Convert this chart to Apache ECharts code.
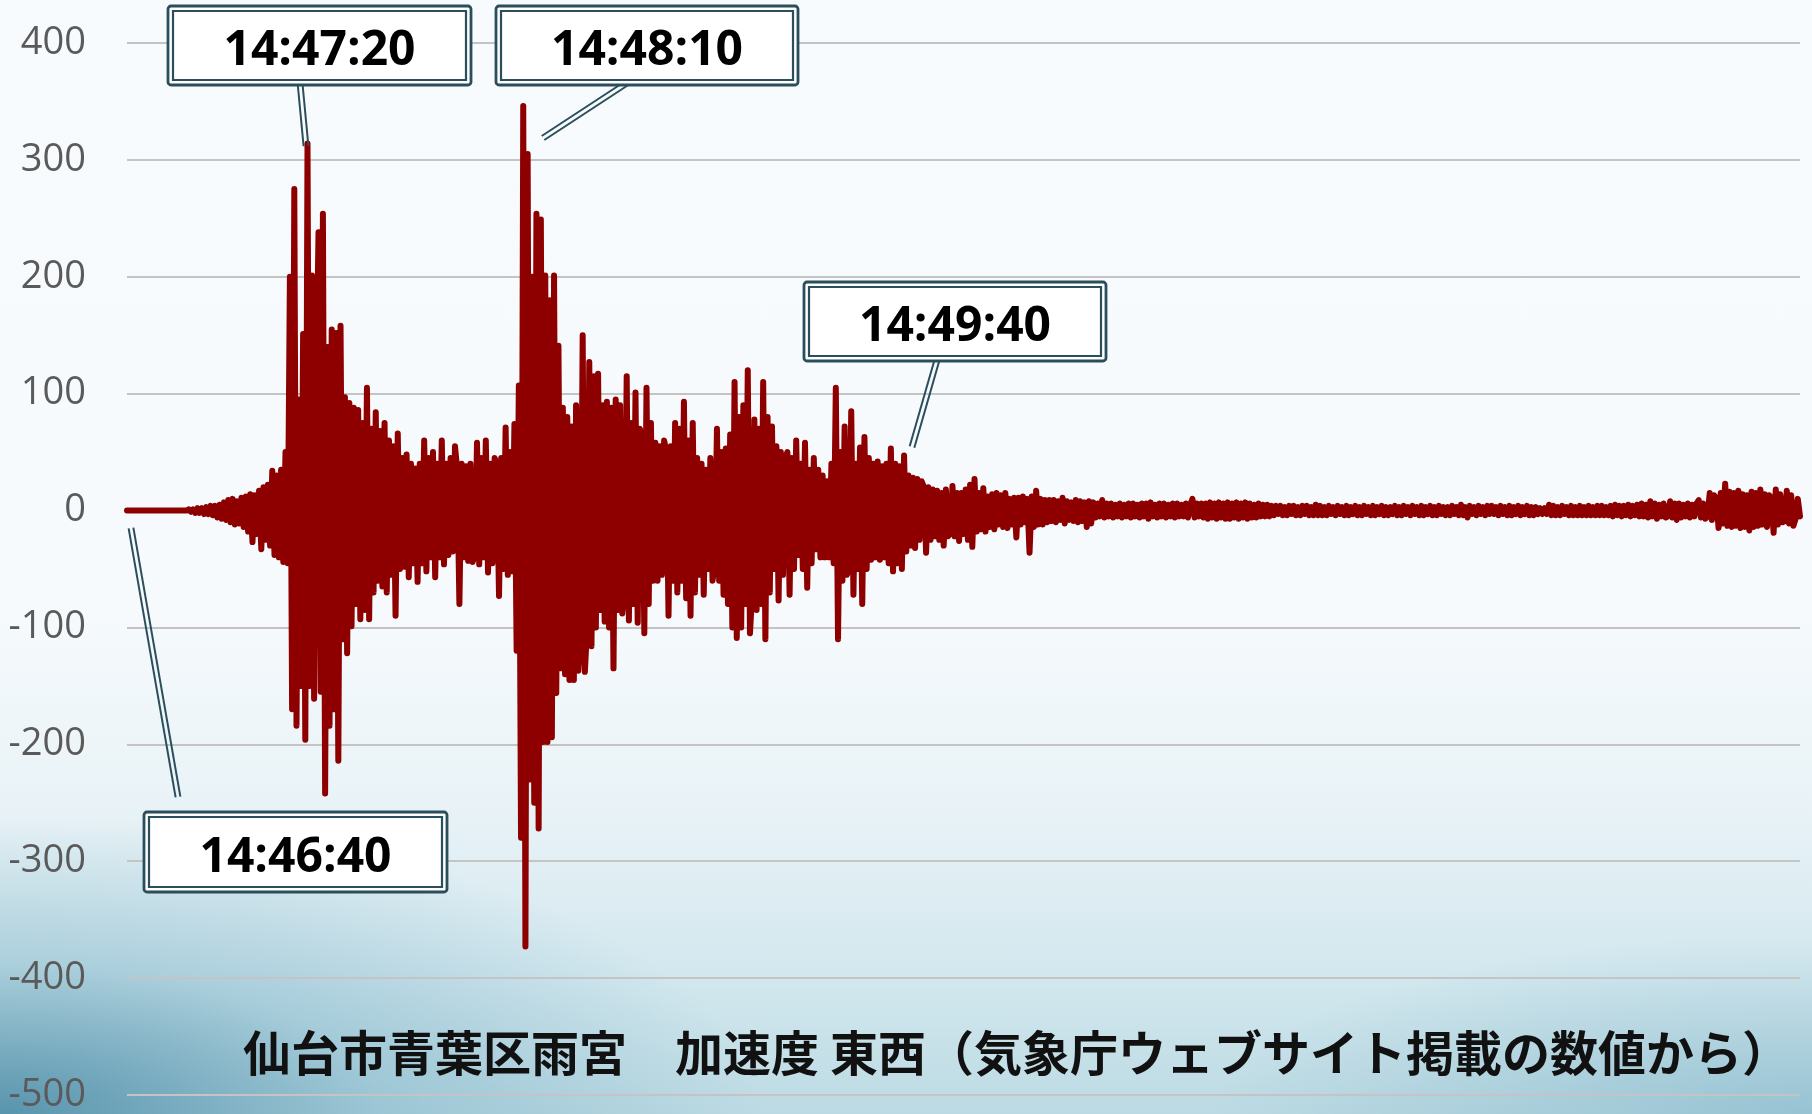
<!DOCTYPE html>
<html>
<head>
<meta charset="utf-8">
<script src="https://cdn.jsdelivr.net/npm/echarts@6/dist/echarts.min.js"></script>
<style>
html,body{margin:0;padding:0;width:1812px;height:1114px;overflow:hidden;}
body{
  background:
    radial-gradient(ellipse 760px 300px at 0% 100%, rgba(55,125,155,0.75) 0%, rgba(95,160,185,0.35) 50%, rgba(255,255,255,0) 100%),
    radial-gradient(ellipse 600px 180px at 100% 100%, rgba(95,160,185,0.40) 0%, rgba(255,255,255,0) 100%),
    linear-gradient(to bottom, #f8fbfd 0%, #f6fafc 55%, #e9f3f7 72%, #d2e7ee 88%, #bcdae3 100%);
}
#chart{width:1812px;height:1114px;}
</style>
</head>
<body>
<div id="chart"></div>
<script>
// ---- data (seconds after 14:46:40, one value every 0.5 s, gal) ----
const startLabel = '14:46:40';
const sampleStep = 0.5;
const yMin = -500, yMax = 400, yStep = 100;
const accel = [
  // 0-9.5 s
  0,0,0,0,0,0,0,0,0,0,0,0,0,0,0,0,0,0,0,0,
  // 10-19.5
  0,0,0,0,0,0,0,0,1,-1,1,-2,2,-2,2,-3,3,-3,4,-4,
  // 20-29.5
  4,-6,5,-7,7,-8,9,-10,10,-12,8,-11,11,-14,12,-18,14,-27,13,-20,
  // 30-39.5
  17,-33,20,-25,22,-30,34,-38,30,-40,35,-44,50,-45,200,-170,275,-184,95,-150,
  // 40-49.5
  151,-196,314,-150,201,-161,110,238,-155,254,-242,140,-184,155,-170,152,-214,158,-110,97,
  // 50-59.5
  -122,92,-99,88,-80,86,-93,75,-85,105,-93,70,-70,84,-60,68,-65,75,-70,60,
  // 60-69.5
  -55,55,-90,66,-50,45,-48,48,-57,40,-45,36,-61,40,-45,60,-52,45,-40,50,
  // 70-79.5
  -57,40,-40,60,-46,40,-38,45,-35,55,35,-80,40,-40,38,-43,40,-44,-38,58,
  // 80-89.5
  -46,45,-40,60,-53,40,-45,45,40,-73,45,-50,71,-55,50,-52,74,-120,107,-280,
  // 90-99.5
  346,-373,305,-230,200,-250,254,-272,249,-198,201,-198,180,-194,201,-156,141,-135,88,-140,
  // 100-109.5
  80,-145,72,-145,90,-137,-110,150,-138,-100,127,-116,115,-100,117,-85,90,-95,93,-100,
  // 110-119.5
  88,-135,95,-85,90,-88,-70,115,-94,75,-80,101,-96,70,60,-105,105,-80,75,-60,
  // 120-129.5
  58,-60,55,-55,60,50,-90,55,-60,75,-70,70,-60,93,-75,60,-90,75,-70,45,
  // 130-139.5
  -55,40,-72,35,-50,45,-60,-45,70,-60,50,-72,53,-80,65,-100,110,-109,80,-100,
  // 140-149.5
  90,-80,120,-105,-70,78,-85,70,-80,110,-110,80,-70,72,-50,55,-77,50,-55,45,
  // 150-159.5
  50,-72,45,-50,60,-38,40,-50,58,-66,35,-45,45,-33,35,-40,30,-40,25,-40,
  // 160-169.5
  40,-45,105,-110,50,-60,72,-55,-50,85,-72,40,-50,54,-80,63,-50,45,-42,40,
  // 170-179.5
  -40,42,-42,38,-40,40,-45,53,-52,40,-45,38,-50,47,-35,30,-30,28,-32,27,
  // 180-189.5
  -25,25,20,-36,20,-25,18,-22,17,-25,15,-30,18,-22,-20,21,-22,15,-26,15,
  // 190-199.5
  -20,18,-25,22,-31,27,-18,15,-16,19,-18,12,-14,14,-16,15,-12,13,-14,15,
  // 200-209.5
  -15,10,-12,11,-23,11,-12,12,-10,10,-36,12,-14,17,-12,10,-12,9,-10,9,
  // 210-219.5
  -9,9,-10,8,-8,11,-11,8,-8,7,-9,9,-10,8,-9,7,-14,8,-11,7,
  // 220-229.5
  -6,6,-5,9,-6,6,-5,6,-6,5,-5,6,-6,5,-5,6,-6,6,-5,5,
  // 230-239.5
  -6,6,-5,6,-7,7,-5,5,-6,6,-5,6,-6,5,-5,6,-6,6,-5,5,
  // 240-249.5
  -5,6,-6,5,10,-6,6,-5,6,-6,6,-7,7,-6,6,-7,7,-6,6,-7,
  // 250-259.5
  7,-7,6,-6,7,-7,6,-6,7,-7,6,-6,5,-6,6,-5,5,-5,5,-5,
  // 260-269.5
  4,-4,4,-3,4,-4,3,-4,4,-3,4,-4,3,-4,4,-3,4,-4,3,-4,
  // 270-279.5
  5,-4,4,-4,3,-4,4,-3,3,-4,4,-3,3,-4,4,-4,3,-3,4,-4,
  // 280-289.5
  3,-4,4,-3,3,-4,4,-4,3,-3,4,-4,3,-4,3,-3,4,-4,3,-4,
  // 290-299.5
  4,-3,3,-4,4,-3,3,-4,4,-4,3,-3,4,-4,3,-4,4,-3,3,-4,
  // 300-309.5
  3,-4,4,-3,3,-4,5,-4,3,-6,4,-3,3,-4,4,-3,3,-4,4,-3,
  // 310-319.5
  4,-3,3,-4,4,-3,3,-4,4,-4,3,-3,4,-4,3,-3,4,-4,3,-4,
  // 320-329.5
  3,-3,2,-3,2,-3,5,-4,4,-4,3,-4,4,-3,3,-4,4,-4,3,-4,
  // 330-339.5
  4,-4,3,-4,4,-4,3,-4,4,-4,4,-4,3,-4,4,-5,5,-4,4,-5,
  // 340-349.5
  4,-4,5,-5,4,-4,5,-5,6,-5,5,-6,8,-5,6,-7,5,-5,6,-6,
  // 350-359.5
  -5,8,-6,6,-8,6,-6,5,-5,6,-6,5,-5,6,9,-6,6,-7,-5,15,
  // 360-369.5
  -8,13,10,-15,15,-11,23,-13,16,-14,15,-13,17,-15,14,-14,13,-17,16,-14,
  // 370-380
  15,-13,18,-12,14,-14,13,11,-19,18,-12,14,-10,-9,17,-11,13,-13,-7,10,
  -5
];
const calloutLabels = ['14:46:40', '14:47:20', '14:48:10', '14:49:40'];
const chartTitle = '仙台市青葉区雨宮　加速度 東西（気象庁ウェブサイト掲載の数値から）';

// ---- layout of the callouts (pixels) ----
const calloutLayout = [
  {box: [144, 812, 303, 80], lead: [[178, 797], [131, 528]]},
  {box: [168, 6, 303, 79],   lead: [[300, 83],  [306, 146]]},
  {box: [496, 6, 302, 79],   lead: [[627, 83],  [543, 138]]},
  {box: [804, 282, 302, 79], lead: [[937, 360], [912, 447]]}
];
const frameColor = '#2a4e5b';

const chart = echarts.init(document.getElementById('chart'), null, {renderer: 'canvas'});

const seriesData = accel.map((v, i) => [i * sampleStep, v]);

const graphics = [];
calloutLayout.forEach((c, k) => {
  const [x, y, w, h] = c.box;
  const [[x1, y1], [x2, y2]] = c.lead;
  const dx = x2 - x1, dy = y2 - y1, len = Math.hypot(dx, dy);
  const nx = -dy / len * 2.4, ny = dx / len * 2.4;
  [-1, 1].forEach(s => {
    graphics.push({
      type: 'line', z: 100, silent: true,
      shape: {x1: x1 + s * nx, y1: y1 + s * ny, x2: x2 + s * nx, y2: y2 + s * ny},
      style: {stroke: frameColor, lineWidth: 2}
    });
  });
  graphics.push({
    type: 'rect', z: 101, silent: true,
    shape: {x: x, y: y, width: w, height: h, r: 3},
    style: {fill: '#ffffff', stroke: frameColor, lineWidth: 2.8}
  });
  graphics.push({
    type: 'rect', z: 102, silent: true,
    shape: {x: x + 5, y: y + 5, width: w - 10, height: h - 10},
    style: {fill: 'none', stroke: frameColor, lineWidth: 2.2}
  });
  graphics.push({
    type: 'text', z: 103, silent: true,
    style: {
      text: calloutLabels[k], x: x + w / 2, y: y + h / 2 + 6,
      textAlign: 'center', textVerticalAlign: 'middle',
      align: 'center', verticalAlign: 'middle',
      font: 'bold 48px "Open Sans"', fill: '#000000'
    }
  });
});
graphics.push({
  type: 'text', z: 103, silent: true,
  style: {
    text: chartTitle, x: 243, y: 1053,
    textAlign: 'left', textVerticalAlign: 'middle',
    align: 'left', verticalAlign: 'middle',
    font: 'bold 48px "Noto Sans CJK JP"', fill: '#111111'
  }
});

chart.setOption({
  backgroundColor: 'transparent',
  animation: false,
  grid: {left: 127, right: 12, top: 43, bottom: 15, containLabel: false},
  xAxis: {
    type: 'value', min: 0, max: 380, show: false
  },
  yAxis: {
    type: 'value', min: yMin, max: yMax, interval: yStep,
    axisLine: {show: false}, axisTick: {show: false},
    axisLabel: {color: '#5a5a5a', fontSize: 38, fontFamily: 'Open Sans', margin: 41, padding: [5, 0, 0, 0]},
    splitLine: {show: true, lineStyle: {color: '#c4c4c4', width: 2}}
  },
  series: [{
    type: 'line',
    data: seriesData,
    showSymbol: false,
    symbol: 'none',
    silent: true,
    smooth: false,
    lineStyle: {color: '#8e0000', width: 6, cap: 'round', join: 'round'}
  }],
  graphic: graphics
});
</script>
</body>
</html>
